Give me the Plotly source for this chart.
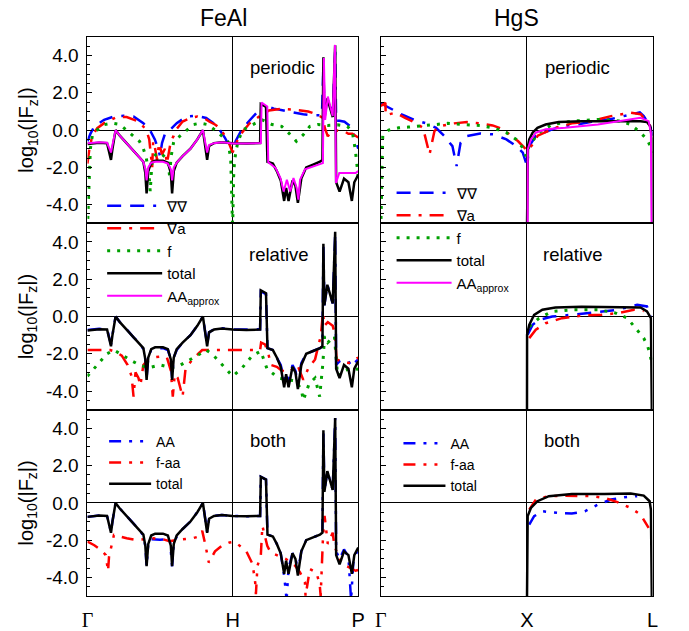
import plotly.graph_objects as go

W, H = 689, 631
FONT = "Liberation Sans, Arial, Helvetica, sans-serif"

# ---------------- FeAl (path Γ=0, H=148, P=276) ----------------
feal_ticks = [0, 148, 276]
feal_labels = ["<span style='font-family:Liberation Serif'>Γ</span>", "H", "P"]

feal_total_x = [0, 12, 20, 24, 25.5, 28.7, 33, 39, 47, 53, 57, 59, 60.3, 62, 65, 69, 77, 82, 85, 86.3, 88, 91, 97, 105, 112, 117.7, 120.5, 122, 124, 129, 137, 148, 162, 176, 176.7, 182, 183.5, 189, 193, 197, 200.5, 202.5, 205, 209, 212, 214.5, 218, 223, 230, 237, 239.5, 240.5, 241.5, 244.5, 250, 252.5, 253.5, 257, 261.5, 266, 269.5, 272, 276]
feal_total_y = [-0.75, -0.68, -0.7, -1.6, -1.0, 0.0, -0.3, -0.65, -1.15, -1.45, -1.7, -2.3, -3.4, -2.2, -1.75, -1.65, -1.65, -1.75, -2.3, -3.4, -2.2, -1.75, -1.4, -1.0, -0.5, 0.0, -1.0, -1.6, -0.85, -0.7, -0.65, -0.7, -0.72, -0.7, 1.4, 1.25, -1.7, -1.8, -2.2, -2.7, -3.8, -3.1, -3.8, -2.7, -3.0, -3.9, -2.6, -2.0, -1.85, -1.7, -1.6, 3.9, 0.6, 1.7, 0.7, 4.55, -2.8, -3.3, -2.6, -2.8, -3.8, -2.8, -2.4]

feal_aaapprox_x = [0, 12, 20, 24, 25.5, 28.7, 33, 39, 47, 53, 57, 59, 60.3, 62, 65, 69, 77, 82, 85, 86.3, 88, 91, 97, 105, 112, 117.7, 120.5, 122, 124, 129, 137, 148, 162, 176.7, 177.5, 183.3, 184.3, 191.7, 196.7, 200, 203.3, 206.7, 210, 213.3, 215, 216.7, 221.7, 231.7, 240, 241, 242.3, 245, 250, 252.3, 253.3, 256.7, 263.3, 273.3, 276]
feal_aaapprox_y = [-0.7, -0.65, -0.68, -1.2, -0.8, 0.0, -0.3, -0.65, -1.15, -1.45, -1.7, -2.1, -2.7, -2.0, -1.75, -1.7, -1.7, -1.8, -2.1, -2.7, -2.0, -1.75, -1.4, -1.0, -0.5, 0.0, -0.8, -1.2, -0.8, -0.7, -0.65, -0.72, -0.72, -0.7, 1.48, 1.27, -1.73, -2.03, -2.57, -3.3, -2.66, -3.3, -2.57, -3.1, -3.73, -2.66, -2.1, -1.9, -1.77, 3.86, 0.55, 1.8, 0.76, 4.57, -2.84, -2.3, -2.3, -2.3, -2.2]

feal_per_gg_x = [0, 3, 7, 17, 27, 37, 47, 57, 63.7, 68.7, 72, 74, 76, 79, 84, 91, 101, 111, 121, 129, 135, 140, 145, 148, 151, 157, 165, 172, 178, 183, 190, 200, 210, 220, 230, 239, 240.5, 241.5, 244.5, 250, 252.5, 253.5, 257, 262, 268, 272, 276]
feal_per_gg_y = [-0.6, -0.2, 0.2, 0.55, 0.73, 0.77, 0.73, 0.37, 0.0, -0.5, -1.0, -1.4, -0.7, -0.2, 0.0, 0.37, 0.73, 0.77, 0.65, 0.35, 0.0, -0.4, -0.9, -1.2, -0.6, 0.0, 0.5, 0.9, 1.4, 1.3, 1.15, 1.05, 0.95, 0.85, 0.8, 0.8, 3.5, 0.8, 1.6, 0.9, 4.2, 0.5, 0.5, 0.45, 0.2, -0.3, -1.0]

feal_per_ga_x = [0, 2, 5, 10, 17, 24, 30, 40, 50, 54, 60, 63, 65, 66, 67, 69, 71, 73, 76, 79, 81, 83, 85, 88, 90, 97, 105, 112, 120, 124, 130, 135, 140, 145, 148, 150, 155, 165, 175, 185, 198, 212, 225, 235, 240, 242, 245, 248, 252, 257, 262, 266, 270, 276]
feal_per_ga_y = [-1.8, -1.0, -0.3, 0.1, 0.37, 0.55, 0.7, 0.7, 0.5, 0.37, 0.0, -0.5, -1.5, -2.0, -0.6, -1.0, -1.6, -0.7, -1.3, -1.0, -1.8, -1.2, -0.6, -0.3, 0.0, 0.46, 0.65, 0.73, 0.6, 0.46, 0.3, 0.1, -0.3, -0.8, -1.2, -0.9, -0.3, 0.35, 0.73, 1.05, 1.14, 1.09, 1.0, 0.82, 0.64, 0.1, -0.34, -0.1, 0.0, -0.05, -0.07, -0.2, -0.2, -0.4]

feal_per_f_x = [0, 1, 2, 3, 5, 10, 17, 25, 33, 40, 47, 53, 57, 60, 63, 64, 66, 70, 74, 78, 82, 84, 85, 88, 95, 101, 108, 115, 123, 130, 137, 143, 146, 147, 148, 149, 150, 153, 158, 165, 178, 188, 198, 205, 213, 220, 226.7, 235, 245, 255, 265, 270, 273, 276]
feal_per_f_y = [-5.3, -3.5, -2.0, -1.0, -0.3, 0.0, 0.29, 0.37, 0.3, 0.0, -0.3, -0.6, -1.0, -1.5, -2.5, -3.3, -1.5, -1.3, -1.2, -1.4, -1.6, -2.6, -1.5, -0.6, -0.3, 0.0, 0.3, 0.37, 0.29, 0.0, -0.3, -0.6, -1.5, -3.0, -5.3, -2.5, -1.6, -0.7, 0.0, 0.2, 0.55, 0.3, 0.2, -0.15, -0.6, -0.25, 0.2, 0.3, 0.25, 0.28, 0.2, -0.1, -1.05, -2.5]

feal_rel_gg_x = [0, 12, 20, 24, 25.5, 28.7, 33, 39, 47, 53, 57, 59, 60.3, 62, 65, 69, 77, 82, 85, 86.3, 88, 91, 97, 105, 112, 117.7, 120.5, 122, 124, 129, 137, 148, 162, 176, 176.7, 182, 183.5, 189, 193, 197, 200.5, 202.5, 205, 209, 212, 214.5, 218, 223, 230, 237, 239.5, 240.5, 241.5, 244.5, 250, 252.5, 253.5, 257, 261.5, 266, 269.5, 272, 276]
feal_rel_gg_y = [-0.72, -0.66, -0.68, -1.5, -1.0, 0.0, -0.3, -0.62, -1.12, -1.42, -1.75, -2.3, -3.3, -2.2, -1.8, -1.7, -1.7, -1.8, -2.3, -3.3, -2.2, -1.8, -1.4, -1.0, -0.5, 0.0, -1.0, -1.5, -0.85, -0.68, -0.63, -0.7, -0.7, -0.68, 1.35, 1.2, -1.7, -1.8, -2.2, -2.6, -3.4, -3.0, -3.6, -2.6, -2.9, -3.6, -2.5, -2.0, -1.85, -1.7, -1.6, 3.8, 0.6, 1.7, 0.7, 4.4, -2.6, -2.4, -2.3, -2.4, -2.7, -2.5, -2.3]

feal_rel_ga_x = [0, 23, 29, 35, 41, 45, 47, 49, 52, 54, 57, 62, 67, 74, 81, 85, 87, 89, 92, 97, 100, 107, 113, 117, 148, 176, 177, 181, 184, 187, 193, 198, 205, 214, 220, 225, 232, 238, 240, 241.5, 245, 250, 252, 254, 260, 268, 276]
feal_rel_ga_y = [-1.8, -1.8, -1.9, -2.1, -2.6, -3.2, -4.3, -3.0, -3.3, -3.7, -2.6, -2.3, -2.2, -2.15, -2.2, -2.9, -4.3, -3.1, -3.3, -4.3, -2.8, -2.3, -2.0, -1.8, -1.8, -1.8, -1.4, -1.5, -1.9, -2.6, -2.7, -2.9, -3.0, -2.6, -3.4, -2.8, -2.3, -1.0, 0.2, -0.5, -0.3, -0.5, -0.9, -2.3, -2.45, -2.5, -2.2]

feal_rel_f_x = [0, 7, 14, 20, 27, 33, 39, 46, 53, 62, 74, 86, 95, 102, 109, 115, 121, 127, 134, 141, 148, 157, 168, 176.7, 183, 190, 195, 204, 212, 218, 220, 226, 232, 236.7, 240, 241.7, 245, 251.7, 255, 262, 268, 276]
feal_rel_f_y = [-3.2, -2.8, -2.4, -2.0, -1.8, -2.0, -2.2, -2.4, -2.6, -2.75, -2.6, -2.75, -2.6, -2.4, -2.2, -2.0, -1.8, -2.0, -2.4, -2.8, -3.2, -2.8, -2.1, -1.86, -2.8, -3.1, -3.3, -3.4, -3.45, -3.9, -4.5, -3.6, -3.3, -4.3, -2.5, -1.05, -1.4, -1.05, -3.2, -2.9, -2.8, -2.83]

feal_both_aa_x = [0, 12, 20, 24, 25.5, 28.7, 33, 39, 47, 53, 57, 59, 60.3, 62, 64, 74, 84, 86.3, 88, 91, 97, 105, 112, 117.7, 120.5, 122, 124, 129, 137, 148, 162, 176, 176.7, 182, 183.5, 189, 193, 197, 200.5, 203, 205, 209, 212, 214.5, 218, 223, 230, 237, 239.5, 240.5, 241.5, 244.5, 250, 252.5, 253.5, 257, 261.5, 266, 268.7, 271, 276]
feal_both_aa_y = [-0.75, -0.68, -0.7, -1.55, -1.0, 0.0, -0.3, -0.65, -1.15, -1.45, -1.75, -2.3, -3.4, -2.2, -1.95, -1.97, -1.95, -3.4, -2.2, -1.8, -1.4, -1.0, -0.5, 0.0, -1.0, -1.55, -0.85, -0.7, -0.65, -0.7, -0.72, -0.7, 1.4, 1.25, -1.7, -1.8, -2.2, -2.7, -3.9, -5.2, -3.5, -2.7, -2.9, -3.7, -2.6, -2.0, -1.85, -1.7, -1.6, 3.9, 0.6, 1.7, 0.7, 4.55, -2.6, -3.0, -2.5, -2.9, -5.2, -3.2, -2.4]

feal_both_faa_x = [0, 7, 13.7, 18.7, 21, 22, 27, 40, 50, 58.7, 67, 77, 83.7, 97, 107, 113.7, 117, 120.3, 123.7, 130, 137, 145, 150, 161.7, 168.3, 171, 171.7, 173.3, 176.7, 178.3, 183.3, 186.7, 195, 202, 211.7, 216.7, 221.7, 222.3, 226.7, 233.3, 236.7, 237.7, 240, 241.7, 245, 250, 251.7, 256.7, 263.3, 273.3, 276]
feal_both_faa_y = [-2.08, -2.27, -2.52, -2.8, -3.66, -2.9, -1.72, -1.9, -1.99, -1.96, -1.9, -1.95, -2.05, -1.95, -1.9, -1.8, -1.5, -2.27, -3.2, -2.6, -2.3, -2.12, -2.08, -2.57, -3.28, -4.27, -4.9, -3.37, -2.83, -1.23, -2.3, -2.66, -2.83, -3.0, -3.37, -3.73, -4.27, -5.0, -3.55, -3.73, -4.35, -5.0, -1.95, -0.7, -2.2, -1.6, -2.3, -3.0, -3.37, -3.64, -3.6]

# ---------------- HgS (path Γ=0, X=149, L=277) ----------------
hgs_ticks = [0, 149, 277]
hgs_labels = ["<span style='font-family:Liberation Serif'>Γ</span>", "X", "L"]

hgs_per_gg_x = [0, 1.3, 21.3, 34.7, 46.3, 56.3, 64.7, 73, 77.3, 81.3, 88, 101.3, 114.7, 128, 138, 144.7, 148, 149, 151.3, 158, 174.7, 184.7, 200, 215, 235, 255, 264, 268, 274.7, 277]
hgs_per_gg_y = [1.46, 1.4, 0.84, 0.54, 0.36, 0.12, -0.32, -0.86, -1.93, -0.68, -0.32, -0.18, -0.23, -0.5, -0.86, -1.21, -1.75, -1.9, -0.86, -0.32, 0.04, 0.21, 0.3, 0.45, 0.6, 0.85, 0.95, 0.75, 0.2, -0.3]

hgs_per_ga_x = [0, 4.7, 5, 14.7, 24.7, 34.7, 43, 48, 49.7, 54.7, 59.7, 74.7, 88, 101.3, 114, 124.7, 131.3, 140, 149.7, 154.7, 160, 178, 194.7, 214.7, 234.7, 254.7, 265, 274.7, 277]
hgs_per_ga_y = [1.3, 1.46, 0.8, 0.93, 0.66, 0.4, 0.12, -0.86, -1.3, -0.05, 0.21, 0.36, 0.43, 0.36, 0.25, 0.04, -0.23, -0.6, -1.12, -0.77, -0.3, 0.12, 0.36, 0.48, 0.75, 0.93, 0.85, 0.21, -0.2]

hgs_per_f_x = [0, 1, 2, 8, 18, 28, 40, 54.7, 68, 84.7, 101.3, 114.7, 128, 138, 144.7, 148, 151, 161, 174.7, 194.7, 221.3, 244.7, 254.7, 264.7, 271.3, 274.7, 277]
hgs_per_f_y = [-5.3, -2.5, -0.3, 0.0, 0.12, 0.16, 0.22, 0.3, 0.36, 0.3, 0.24, 0.12, -0.14, -0.5, -0.95, -1.4, -0.86, -0.14, 0.3, 0.48, 0.57, 0.48, 0.3, -0.14, -0.5, -0.86, -1.2]

hgs_per_total_x = [149, 149.3, 150, 151.3, 154.7, 159.7, 168, 181.3, 204.7, 240, 264.7, 271.3, 274.7, 276.3, 276.7]
hgs_per_total_y = [-5.3, -1.5, -0.86, -0.5, -0.14, 0.12, 0.3, 0.43, 0.48, 0.48, 0.48, 0.43, 0.21, -0.5, -5.3]

hgs_per_aaapprox_x = [149.7, 149.8, 153, 158, 168, 188, 221.3, 248, 264.7, 273, 275.3, 276]
hgs_per_aaapprox_y = [-5.3, -1.03, -0.5, -0.14, 0.04, 0.12, 0.3, 0.54, 0.66, 0.48, -0.14, -5.3]

hgs_rel_total_x = [149, 149.1, 151.3, 156.3, 164.7, 178, 204.7, 238, 264.7, 271.3, 275.3, 276.3]
hgs_rel_total_y = [-5.3, -0.98, -0.45, 0.09, 0.36, 0.48, 0.52, 0.52, 0.48, 0.27, -0.09, -5.3]
hgs_rel_gg_x = [149.7, 154.7, 161.3, 174.7, 194.7, 218, 241.3, 261.3, 271.3, 275.3]
hgs_rel_gg_y = [-0.98, -0.45, -0.18, 0.0, 0.09, 0.21, 0.36, 0.63, 0.54, 0.0]
hgs_rel_ga_x = [151.3, 158, 168, 184.7, 204.7, 224.7, 241.3, 258, 268]
hgs_rel_ga_y = [-1.16, -0.71, -0.36, -0.09, 0.05, 0.09, 0.18, 0.36, 0.3]
hgs_rel_f_x = [151.3, 161.3, 174.7, 194.7, 221.3, 238, 251.3, 261.3, 268, 272, 274.7, 276]
hgs_rel_f_y = [-0.54, -0.09, 0.27, 0.36, 0.36, 0.21, -0.09, -0.71, -1.16, -1.6, -2.05, -2.6]

hgs_both_total_x = [149, 149.7, 153, 159.7, 171.3, 194.7, 228, 254.7, 268, 274, 275.3, 276.3]
hgs_both_total_y = [-5.3, -0.71, -0.27, 0.09, 0.36, 0.48, 0.48, 0.5, 0.39, 0.09, -0.36, -5.3]
hgs_both_aa_x = [151.3, 156.3, 164.7, 181.3, 194.7, 208, 221.3, 234.7, 248, 261.3]
hgs_both_aa_y = [-1.16, -0.71, -0.45, -0.54, -0.57, -0.45, -0.09, 0.18, 0.3, 0.36]
hgs_both_faa_x = [151.3, 158, 171.3, 188, 214.7, 228, 241.3, 254.7, 264.7, 273]
hgs_both_faa_y = [-0.36, 0.18, 0.36, 0.39, 0.36, 0.27, 0.04, -0.27, -0.63, -1.34]

y_tickvals = [-4, -2, 0, 2, 4]
y_ticktext = ["-4.0", "-2.0", "0.0", "2.0", "4.0"]

# ---------------- styles ----------------
BLUE, RED, GREEN, MAG = "#0000ff", "#ff0000", "#00a000", "#ff00ff"
S_GG = dict(color=BLUE, width=2.5, dash="14px,9px,14px,9px,3px,9px")
S_GA = dict(color=RED, width=2.5, dash="14px,8px,3px,8px")
S_F = dict(color=GREEN, width=3, dash="3px,7px")
S_TOT = dict(color="black", width=2.5)
S_AAP = dict(color=MAG, width=2)
S_AA = dict(color=BLUE, width=2.5, dash="12px,8px,3px,8px,3px,8px")
S_FAA = dict(color=RED, width=2.5, dash="12px,8px,3px,8px,3px,8px")

fig = go.Figure()

def add(x, y, ax, name, line, legend=None):
    fig.add_trace(go.Scatter(
        x=x, y=y, mode="lines", name=name, line=line,
        xaxis="x" if ax == 1 else f"x{ax}", yaxis="y" if ax == 1 else f"y{ax}",
        showlegend=legend is not None, legend=legend if legend else "legend",
        hoverinfo="skip"))

# row 1 periodic
add(feal_per_gg_x, feal_per_gg_y, 1, "∇∇", S_GG, "legend")
add(feal_per_ga_x, feal_per_ga_y, 1, "∇a", S_GA, "legend")
add(feal_per_f_x, feal_per_f_y, 1, "f", S_F, "legend")
add(feal_total_x, feal_total_y, 1, "total", S_TOT, "legend")
add(feal_aaapprox_x, feal_aaapprox_y, 1, "AA<sub>approx</sub>", S_AAP, "legend")
add(hgs_per_gg_x, hgs_per_gg_y, 2, "∇∇", S_GG, "legend2")
add(hgs_per_ga_x, hgs_per_ga_y, 2, "∇a", S_GA, "legend2")
add(hgs_per_f_x, hgs_per_f_y, 2, "f", S_F, "legend2")
add(hgs_per_total_x, hgs_per_total_y, 2, "total", S_TOT, "legend2")
add(hgs_per_aaapprox_x, hgs_per_aaapprox_y, 2, "AA<sub>approx</sub>", S_AAP, "legend2")
# row 2 relative
add(feal_rel_gg_x, feal_rel_gg_y, 3, "∇∇", S_GG)
add(feal_rel_ga_x, feal_rel_ga_y, 3, "∇a", S_GA)
add(feal_rel_f_x, feal_rel_f_y, 3, "f", S_F)
add(feal_total_x, feal_total_y, 3, "total", S_TOT)
add(hgs_rel_gg_x, hgs_rel_gg_y, 4, "∇∇", S_GG)
add(hgs_rel_ga_x, hgs_rel_ga_y, 4, "∇a", S_GA)
add(hgs_rel_f_x, hgs_rel_f_y, 4, "f", S_F)
add(hgs_rel_total_x, hgs_rel_total_y, 4, "total", S_TOT)
# row 3 both
add(feal_both_aa_x, feal_both_aa_y, 5, "AA", S_AA, "legend3")
add(feal_both_faa_x, feal_both_faa_y, 5, "f-aa", S_FAA, "legend3")
add(feal_total_x, feal_total_y, 5, "total", S_TOT, "legend3")
add(hgs_both_aa_x, hgs_both_aa_y, 6, "AA", S_AA, "legend4")
add(hgs_both_faa_x, hgs_both_faa_y, 6, "f-aa", S_FAA, "legend4")
add(hgs_both_total_x, hgs_both_total_y, 6, "total", S_TOT, "legend4")

def px(v):
    return v / W

def py(v):
    return 1 - v / H

col_dom = [[px(83), px(359)], [px(382), px(659)]]
row_dom = [[py(224), py(37)], [py(411), py(224)], [py(598), py(411)]]

layout = dict(
    width=W, height=H, margin=dict(l=0, r=0, t=0, b=0),
    paper_bgcolor="white", plot_bgcolor="white",
    font=dict(family=FONT, color="black", size=16),
)
for r in range(3):
    for c in range(2):
        i = r * 2 + c + 1
        sx = "" if i == 1 else str(i)
        tv = feal_ticks if c == 0 else hgs_ticks
        tt = feal_labels if c == 0 else hgs_labels
        layout["xaxis" + sx] = dict(
            domain=col_dom[c], anchor="y" + sx, range=[tv[0], tv[-1]],
            tickmode="array", tickvals=tv, ticktext=tt, showticklabels=(r == 2),
            ticks="", showgrid=True, gridcolor="black", gridwidth=1, zeroline=False,
            showline=True, linecolor="black", linewidth=1, mirror=True,
            tickfont=dict(size=20), ticklabelstandoff=6)
        layout["yaxis" + sx] = dict(
            domain=row_dom[r], anchor="x" + sx, range=[-5, 5],
            tickmode="array", tickvals=y_tickvals, ticktext=y_ticktext,
            showticklabels=(c == 0), ticks="inside", ticklen=5, tickcolor="black",
            minor=dict(tickmode="linear", tick0=0, dtick=0.5, ticks="inside", ticklen=3, tickcolor="black"),
            showgrid=False, zeroline=True, zerolinecolor="black", zerolinewidth=1,
            showline=True, linecolor="black", linewidth=1, mirror=True,
            tickfont=dict(size=19), ticklabelstandoff=4)

leg_common = dict(bgcolor="rgba(0,0,0,0)", borderwidth=0, xanchor="left", yanchor="top",
                  traceorder="normal")
layout["legend"] = dict(leg_common, x=px(98), y=py(190), itemwidth=55, font=dict(size=15))
layout["legend2"] = dict(leg_common, x=px(393), y=py(177), itemwidth=55, font=dict(size=15))
layout["legend3"] = dict(leg_common, x=px(100), y=py(427), itemwidth=42, font=dict(size=14))
layout["legend4"] = dict(leg_common, x=px(400), y=py(429), itemwidth=42, font=dict(size=14))

annos = []
def text(xp, yp, s, size, angle=0):
    annos.append(dict(x=px(xp), y=py(yp), xref="paper", yref="paper", text=s, showarrow=False,
                      font=dict(size=size, family=FONT), textangle=angle,
                      xanchor="center", yanchor="middle"))

text(222, 18, "FeAl", 23)
text(520, 18, "HgS", 23)
for yc in [130.5, 317.5, 504.5]:
    text(22, yc, "log<sub>10</sub>(|F<sub>z</sub>|)", 20, -90)
text(282, 68, "periodic", 18.5)
text(278, 255, "relative", 18.5)
text(267, 442, "both", 18.5)
text(582, 68, "periodic", 18.5)
text(578, 255, "relative", 18.5)
text(567, 442, "both", 18.5)
layout["annotations"] = annos

fig.update_layout(**layout)
fig.write_html("out.html")
